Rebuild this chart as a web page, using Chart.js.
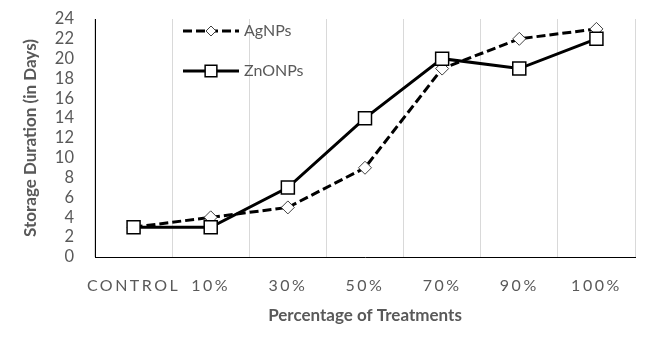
<!DOCTYPE html>
<html>
<head>
<meta charset="utf-8">
<script src="https://cdn.jsdelivr.net/npm/chart.js@4/dist/chart.umd.min.js"></script>
<style>
  html, body { margin: 0; padding: 0; background: #fff; }
  #wrap { width: 667px; height: 338px; position: relative; }
</style>
</head>
<body>
<div id="wrap"><canvas id="c" width="667" height="338"></canvas></div>
<script>
const categories = ['CONTROL', '10%', '30%', '50%', '70%', '90%', '100%'];
const agnpsValues = [3, 4, 5, 9, 19, 22, 23];
const znonpsValues = [3, 3, 7, 14, 20, 19, 22];
const seriesNames = ['AgNPs', 'ZnONPs'];
const yTitle = 'Storage Duration (in Days)';
const xTitle = 'Percentage of Treatments';

const TEXT = '#595959';
const FONT = 'Lato, "Open Sans", sans-serif';

class SpacedCategory extends Chart.CategoryScale {
  drawLabels(area) {
    const ctx = this.ctx;
    ctx.save();
    ctx.letterSpacing = '2.5px';
    super.drawLabels(area);
    ctx.restore();
  }
}
SpacedCategory.id = 'spacedCategory';
SpacedCategory.defaults = Chart.CategoryScale.defaults;
Chart.register(SpacedCategory);

const innerLegend = {
  id: 'innerLegend',
  afterDatasetsDraw(chart) {
    const ctx = chart.ctx;
    const a = chart.chartArea;
    const x0 = a.left + 88, x1 = a.left + 144;
    const rows = [a.top + 12, a.top + 52];
    const legendRadius = [5, 8.3];
    chart.data.datasets.forEach((ds, i) => {
      const y = rows[i];
      ctx.save();
      ctx.strokeStyle = ds.borderColor;
      ctx.lineWidth = ds.borderWidth;
      ctx.setLineDash(ds.borderDash || []);
      ctx.beginPath();
      ctx.moveTo(x0, y);
      ctx.lineTo(x1, y);
      ctx.stroke();
      ctx.setLineDash([]);
      ctx.fillStyle = ds.pointBackgroundColor;
      ctx.strokeStyle = ds.pointBorderColor;
      ctx.lineWidth = ds.pointBorderWidth;
      Chart.helpers.drawPoint(ctx, {pointStyle: ds.pointStyle, radius: legendRadius[i], rotation: 0, borderWidth: ds.pointBorderWidth}, (x0 + x1) / 2, y);
      ctx.fillStyle = TEXT;
      ctx.font = '16px ' + FONT;
      ctx.textBaseline = 'middle';
      ctx.textAlign = 'left';
      ctx.fillText(ds.label, x1 + 5, y);
      ctx.restore();
    });
  }
};

new Chart(document.getElementById('c'), {
  type: 'line',
  data: {
    labels: categories,
    datasets: [
      {
        label: seriesNames[0],
        data: agnpsValues,
        borderColor: '#000',
        borderWidth: 3,
        borderDash: [9, 4],
        pointStyle: 'rectRot',
        pointRadius: 6.5,
        pointBackgroundColor: '#fff',
        pointBorderColor: '#404040',
        pointBorderWidth: 1,
        tension: 0,
        order: 1
      },
      {
        label: seriesNames[1],
        data: znonpsValues,
        borderColor: '#000',
        borderWidth: 3,
        pointStyle: 'rect',
        pointRadius: 9.2,
        pointBackgroundColor: '#fff',
        pointBorderColor: '#000',
        pointBorderWidth: 1.5,
        tension: 0,
        order: 0
      }
    ]
  },
  options: {
    responsive: false,
    animation: false,
    layout: { padding: { top: 19, right: 32, bottom: 0, left: 0 } },
    plugins: { legend: { display: false }, tooltip: { enabled: false } },
    scales: {
      x: {
        type: 'spacedCategory',
        offset: true,
        grid: { display: true, offset: true, color: '#d9d9d9', lineWidth: 1, drawTicks: false },
        border: { display: true, color: '#000', width: 1 },
        ticks: { color: TEXT, font: { family: FONT, size: 16 }, padding: 19, maxRotation: 0, autoSkip: false },
        title: { display: true, text: xTitle, color: TEXT, font: { family: FONT, size: 17, weight: 'bold' }, padding: { top: 0, bottom: 12 } },
        afterFit(s) { s.height = 81; }
      },
      y: {
        min: 0, max: 24,
        grid: { display: true, color: 'rgba(0,0,0,0)', drawTicks: true, tickLength: 21 },
        border: { display: true, color: '#000', width: 1 },
        ticks: { stepSize: 2, autoSkip: false, color: TEXT, font: { family: FONT, size: 16.5 }, padding: 0 },
        title: { display: true, text: yTitle, color: TEXT, font: { family: FONT, size: 17, weight: 'bold' }, padding: { top: 20, bottom: 0 } },
        afterFit(s) { s.width = 95; }
      }
    }
  },
  plugins: [innerLegend]
});
</script>
</body>
</html>
